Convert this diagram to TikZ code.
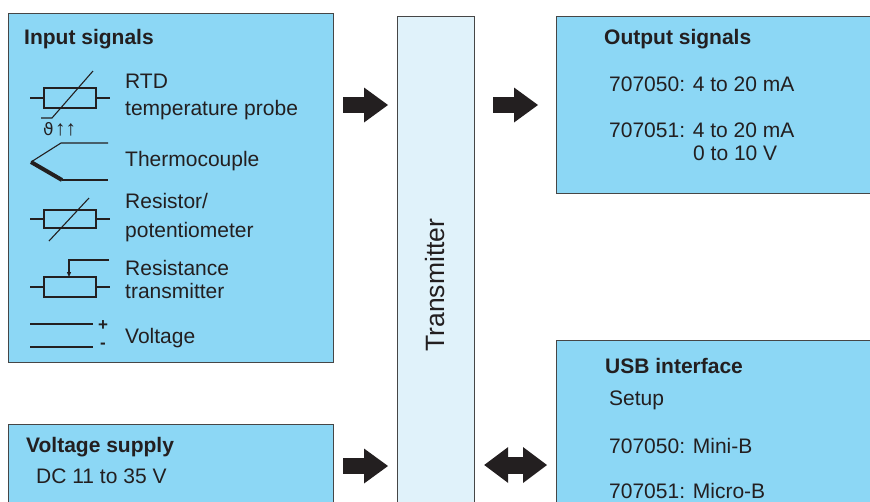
\documentclass[tikz,border=0pt]{standalone}
\usepackage{fontspec}
\setmainfont{Liberation Sans}
\newfontfamily\symfont{DejaVu Sans}
\usetikzlibrary{arrows.meta}
\definecolor{boxblue}{RGB}{140,215,245}
\definecolor{paleblue}{RGB}{224,242,250}
\definecolor{ink}{RGB}{35,31,32}
\definecolor{frame}{RGB}{70,70,70}

\begin{document}
\begin{tikzpicture}[x=1pt, y=-1pt, font=\fontsize{21}{25}\selectfont, text=ink,
  block/.style={draw=frame, line width=1.2pt, fill=boxblue, anchor=north west, inner sep=0pt},
  txt/.style={anchor=base west, inner sep=0pt},
  head/.style={txt, font=\fontsize{21}{25}\selectfont\bfseries},
  sym/.style={ink, line width=1.1pt},
  fat/.style={ink, line width=16pt, -{Triangle[length=24pt, width=35pt, line width=0pt]}},
  fatboth/.style={ink, line width=17pt, {Triangle[length=24pt, width=36pt, line width=0pt]}-{Triangle[length=24pt, width=36pt, line width=0pt]}}]
\clip (0,0) rectangle (870,501);
\node[block, minimum width=325pt, minimum height=349pt] (input) at (8,13) {};
\node[block, minimum width=325pt, minimum height=100pt] (supply) at (8,424) {};
\node[block, fill=paleblue, minimum width=77pt, minimum height=504pt] (trans) at (397,16) {};
\node[block, minimum width=330pt, minimum height=177pt] (output) at (556,16) {};
\node[block, minimum width=330pt, minimum height=200pt] (usb) at (556,340) {};
\node[rotate=90, font=\fontsize{26.5}{30}\selectfont] (translabel) at (435.5,285) {Transmitter};

\node[head] (inhead) at (24,44) {Input signals};
\node[txt] (rtd) at (125,88) {RTD};
\node[txt] (rtdb) at (125,115) {temperature probe};
\node[txt] (tc) at (125,166) {Thermocouple};
\node[txt] (pot) at (125,208) {Resistor/};
\node[txt] (potb) at (125,237) {potentiometer};
\node[txt] (rt) at (125,275) {Resistance};
\node[txt] (rtb) at (125,298) {transmitter};
\node[txt] (volt) at (125,343) {Voltage};

\draw[sym] (30,98) -- (44,98) (96,98) -- (110,98);
\draw[sym] (44,88) rectangle (96,108);
\draw[sym] (41,118) -- (52,118) -- (93,71);
\node[txt, font=\fontsize{17}{17}\symfont] (theta) at (43,135) {ϑ};
\node[txt, font=\fontsize{21}{21}\selectfont] (rise) at (55,135) {↑↑};
\draw[sym] (108,143) -- (61,143) -- (31,162);
\draw[ink, line width=4pt] (31,162) -- (62,180);
\draw[sym] (62,180) -- (108,180);
\draw[sym] (30,219) -- (44,219) (96,219) -- (110,219);
\draw[sym] (44,210) rectangle (96,228);
\draw[sym] (49,241) -- (89,198);
\draw[sym] (30,287) -- (44,287) (96,287) -- (110,287);
\draw[sym] (44,277) rectangle (96,297);
\draw[sym, -{Triangle[length=5pt, width=4pt]}] (109,260) -- (69,260) -- (69,277);
\draw[sym] (30,324) -- (93,324) (30,347) -- (93,347);
\node[font=\fontsize{17}{17}\selectfont\bfseries, inner sep=0pt] (plus) at (103,326) {+};
\node[font=\fontsize{17}{17}\selectfont\bfseries, inner sep=0pt] (minus) at (103,346) {-};

\node[head] (outhead) at (604,44) {Output signals};
\node[txt] (outa) at (609,91) {707050: 4 to 20 mA};
\node[txt] (outb) at (609,137) {707051: 4 to 20 mA};
\node[txt] (outc) at (693,160) {0 to 10 V};

\node[head] (usbhead) at (605,373) {USB interface};
\node[txt] (setup) at (609,405) {Setup};
\node[txt] (usba) at (609,453) {707050: Mini-B};
\node[txt] (usbb) at (609,498) {707051: Micro-B};

\node[head] (suphead) at (26,452) {Voltage supply};
\node[txt] (dc) at (36,483) {DC 11 to 35 V};

\coordinate (rowa) at (0,105);
\coordinate (rowb) at (0,466);
\coordinate (rowc) at (0,465);
\draw[fat, shorten <=9pt, shorten >=9pt] (input.east |- rowa) -- (trans.west |- rowa);
\draw[fat, shorten <=18pt, shorten >=18pt] (trans.east |- rowa) -- (output.west |- rowa);
\draw[fat, shorten <=9pt, shorten >=9pt] (supply.east |- rowb) -- (trans.west |- rowb);
\draw[fatboth, shorten <=9pt, shorten >=9pt] (trans.east |- rowc) -- (usb.west |- rowc);
\end{tikzpicture}
\end{document}
